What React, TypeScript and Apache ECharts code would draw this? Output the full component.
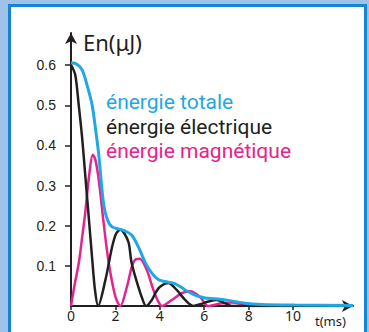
import { useEffect, useRef } from "react";
import * as echarts from "echarts";

// ---- data (t in ms, energy in µJ) ----
const seriesNames = ["énergie totale", "énergie électrique", "énergie magnétique"];
const xTickValues = [0, 2, 4, 6, 8, 10];
const yTickValues = [0.1, 0.2, 0.3, 0.4, 0.5, 0.6];

const tTotal = [0, 0.25, 0.5, 0.72, 0.95, 1.09, 1.25, 1.36, 1.48, 1.64, 1.85, 2.22, 2.43, 2.73, 3.03, 3.33, 3.64, 3.93, 4.23, 4.68, 5.14, 5.59, 6.04, 6.49, 7.09, 7.84, 8.59, 10.09, 12.7];
const eTotal = [0.606, 0.603, 0.588, 0.551, 0.501, 0.447, 0.377, 0.31, 0.25, 0.215, 0.197, 0.191, 0.187, 0.177, 0.148, 0.11, 0.082, 0.066, 0.061, 0.056, 0.04, 0.027, 0.02, 0.018, 0.014, 0.007, 0.004, 0.0025, 0.0012];

const tElec = [0, 0.19, 0.35, 0.5, 0.64, 0.81, 0.95, 1.08, 1.22, 1.55, 1.85, 2.03, 2.22, 2.41, 2.6, 2.73, 3.03, 3.2, 3.38, 3.64, 3.83, 4.01, 4.38, 4.76, 5.14, 5.5, 5.86, 6.18, 6.56, 6.94, 7.25, 8.5, 12.7];
const eElec = [0.601, 0.576, 0.5, 0.42, 0.327, 0.214, 0.12, 0.04, 0, 0.065, 0.147, 0.18, 0.19, 0.18, 0.157, 0.107, 0.048, 0.02, 0, 0.015, 0.035, 0.048, 0.057, 0.04, 0.015, 0, 0.005, 0.011, 0.015, 0.007, 0, 0, 0];

const tMag = [0, 0.16, 0.35, 0.5, 0.64, 0.81, 0.98, 1.1, 1.25, 1.47, 1.7, 2.0, 2.22, 2.52, 2.75, 2.93, 3.1, 3.41, 3.71, 3.92, 4.1, 4.54, 4.99, 5.36, 5.81, 6.17, 6.71, 7.25, 7.84, 8.29, 12.7];
const eMag = [0, 0.052, 0.107, 0.17, 0.232, 0.322, 0.377, 0.364, 0.314, 0.207, 0.107, 0.023, 0, 0.048, 0.1, 0.117, 0.118, 0.09, 0.04, 0.012, 0, 0.015, 0.032, 0.037, 0.023, 0, 0.006, 0.009, 0.003, 0, 0];

const zip = (t: number[], e: number[]) => t.map((v, i) => [v, e[i]]);

const BLUE = "#1fa8e3";
const BLACK = "#231f20";
const PINK = "#e6228e";

export default function App() {
  const ref = useRef<HTMLDivElement>(null);
  useEffect(() => {
    if (!ref.current) return;
    const chart = echarts.init(ref.current, null, { renderer: "svg" });
    chart.setOption({
      animation: false,
      graphic: [
        { type: "rect", z: -10, shape: { x: 0, y: 0, width: 369, height: 332 }, style: { fill: "#a0c2e8" } },
        { type: "rect", z: -10, shape: { x: 8, y: 4, width: 359, height: 340 }, style: { fill: "#1484d3" } },
        { type: "rect", z: -10, shape: { x: 11, y: 7, width: 353, height: 340 }, style: { fill: "#ffffff" } },
      ],
      grid: { left: 71, top: 33, width: 282, height: 273 },
      legend: {
        orient: "vertical",
        left: 96,
        top: 85,
        icon: "none",
        itemWidth: 0,
        itemHeight: 10,
        itemGap: 0,
        selectedMode: false,
        textStyle: { fontFamily: "Roboto", fontSize: 21, lineHeight: 24.5 },
        data: [
          { name: seriesNames[0], textStyle: { color: BLUE } },
          { name: seriesNames[1], textStyle: { color: BLACK } },
          { name: seriesNames[2], textStyle: { color: PINK } },
        ],
      },
      xAxis: {
        type: "value",
        min: 0,
        max: 12.7,
        name: "t(ms)",
        nameLocation: "end",
        nameGap: -38,
        nameTextStyle: { color: BLACK, fontFamily: "Noto Sans", fontSize: 13, align: "left", verticalAlign: "top", padding: [8, 0, 0, 0] },
        splitLine: { show: false },
        axisLine: { lineStyle: { color: BLACK, width: 2 }, symbol: ["none", "arrow"], symbolSize: [9, 11] },
        axisTick: { customValues: xTickValues, length: 4, lineStyle: { color: BLACK, width: 1.5 } },
        axisLabel: { customValues: xTickValues, color: BLACK, fontFamily: "Noto Sans", fontSize: 14, margin: 2 },
      },
      yAxis: {
        type: "value",
        min: 0,
        max: 0.68,
        name: "En(μJ)",
        nameLocation: "end",
        nameGap: -9,
        nameTextStyle: { color: BLACK, fontFamily: "Noto Sans", fontSize: 22, align: "left", verticalAlign: "middle", padding: [0, 0, 0, 12] },
        splitLine: { show: false },
        axisLine: { lineStyle: { color: BLACK, width: 2 }, symbol: ["none", "arrow"], symbolSize: [9, 11] },
        axisTick: { customValues: yTickValues, length: 6, lineStyle: { color: BLACK, width: 1.5 } },
        axisLabel: { customValues: yTickValues, color: BLACK, fontFamily: "Liberation Sans", fontSize: 14, margin: 15, formatter: (v: number) => v.toFixed(1) },
      },
      series: [
        { name: seriesNames[2], type: "line", data: zip(tMag, eMag), smooth: 0.3, showSymbol: false, lineStyle: { color: PINK, width: 2.5 }, itemStyle: { color: PINK } },
        { name: seriesNames[1], type: "line", data: zip(tElec, eElec), smooth: 0.3, showSymbol: false, lineStyle: { color: BLACK, width: 2.5 }, itemStyle: { color: BLACK } },
        { name: seriesNames[0], type: "line", data: zip(tTotal, eTotal), smooth: 0.3, showSymbol: false, lineStyle: { color: BLUE, width: 3 }, itemStyle: { color: BLUE } },
      ],
    });
    return () => chart.dispose();
  }, []);
  return <div ref={ref} style={{ position: "absolute", left: 0, top: 0, width: 369, height: 332 }} />;
}
